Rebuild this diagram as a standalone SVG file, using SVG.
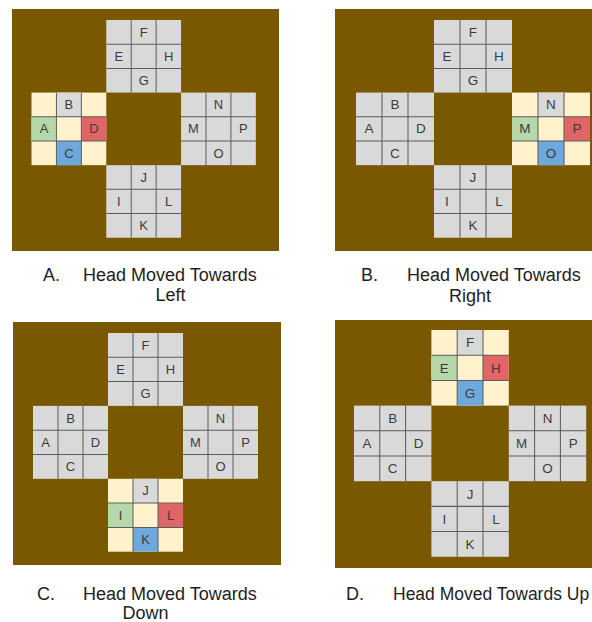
<svg xmlns="http://www.w3.org/2000/svg" xmlns:xlink="http://www.w3.org/1999/xlink" width="592" height="622" viewBox="0 0 592 622">
<style>
.bg{fill:#7a5802}
.lt{font-family:"Liberation Sans",Arial,sans-serif;font-size:13px;fill:#3c3c3c;text-anchor:middle}
.lb{font-family:"Liberation Sans",Arial,sans-serif;font-size:18px;fill:#1e1e1e}
.grid{stroke:#5c5c5c;stroke-width:1;fill:none}
</style>
<defs>
<g id="grey">
<rect width="75" height="72" fill="#d9d9d9"/>
<path class="grid" d="M25 0V72M50 0V72M0 24H75M0 48H75"/>
</g>
<g id="hl">
<rect width="75" height="72" fill="#fff2cc"/>
<rect x="25" y="0" width="25" height="24" fill="#d9d9d9"/>
<rect x="0" y="24" width="25" height="24" fill="#b6d7a8"/>
<rect x="50" y="24" width="25" height="24" fill="#e06666"/>
<rect x="25" y="48" width="25" height="24" fill="#6fa8dc"/>
<path class="grid" d="M25 0V72M50 0V72M0 24H75M0 48H75"/>
</g>
</defs>
<rect width="592" height="622" fill="#ffffff"/>

<!-- Panel A -->
<g id="panelA">
<rect class="bg" x="12" y="9" width="267" height="242"/>
<g transform="translate(31.5,20) scale(0.997,1.008)">
<g id="A-top" transform="translate(75,0)"><use xlink:href="#grey"/><text class="lt" x="37.5" y="16.5">F</text><text class="lt" x="12.5" y="40.5">E</text><text class="lt" x="62.5" y="40.5">H</text><text class="lt" x="37.5" y="64.5">G</text></g>
<g id="A-left" transform="translate(0,72)"><use xlink:href="#hl"/><text class="lt" x="37.5" y="16.5">B</text><text class="lt" x="12.5" y="40.5">A</text><text class="lt" x="62.5" y="40.5">D</text><text class="lt" x="37.5" y="64.5">C</text></g>
<g id="A-right" transform="translate(150,72)"><use xlink:href="#grey"/><text class="lt" x="37.5" y="16.5">N</text><text class="lt" x="12.5" y="40.5">M</text><text class="lt" x="62.5" y="40.5">P</text><text class="lt" x="37.5" y="64.5">O</text></g>
<g id="A-bottom" transform="translate(75,144)"><use xlink:href="#grey"/><text class="lt" x="37.5" y="16.5">J</text><text class="lt" x="12.5" y="40.5">I</text><text class="lt" x="62.5" y="40.5">L</text><text class="lt" x="37.5" y="64.5">K</text></g>
</g>
<text class="lb" x="43" y="281">A.</text>
<text class="lb" x="83" y="281">Head Moved Towards</text>
<text class="lb" x="170.5" y="301" text-anchor="middle">Left</text>
</g>

<!-- Panel B -->
<g id="panelB">
<rect class="bg" x="335" y="9" width="257" height="242"/>
<g transform="translate(356,20) scale(1.04,1.008)">
<g id="B-top" transform="translate(75,0)"><use xlink:href="#grey"/><text class="lt" x="37.5" y="16.5">F</text><text class="lt" x="12.5" y="40.5">E</text><text class="lt" x="62.5" y="40.5">H</text><text class="lt" x="37.5" y="64.5">G</text></g>
<g id="B-left" transform="translate(0,72)"><use xlink:href="#grey"/><text class="lt" x="37.5" y="16.5">B</text><text class="lt" x="12.5" y="40.5">A</text><text class="lt" x="62.5" y="40.5">D</text><text class="lt" x="37.5" y="64.5">C</text></g>
<g id="B-right" transform="translate(150,72)"><use xlink:href="#hl"/><text class="lt" x="37.5" y="16.5">N</text><text class="lt" x="12.5" y="40.5">M</text><text class="lt" x="62.5" y="40.5">P</text><text class="lt" x="37.5" y="64.5">O</text></g>
<g id="B-bottom" transform="translate(75,144)"><use xlink:href="#grey"/><text class="lt" x="37.5" y="16.5">J</text><text class="lt" x="12.5" y="40.5">I</text><text class="lt" x="62.5" y="40.5">L</text><text class="lt" x="37.5" y="64.5">K</text></g>
</g>
<text class="lb" x="361" y="281">B.</text>
<text class="lb" x="407" y="281">Head Moved Towards</text>
<text class="lb" x="470" y="302" text-anchor="middle">Right</text>
</g>

<!-- Panel C -->
<g id="panelC">
<rect class="bg" x="13" y="322" width="268" height="243"/>
<g transform="translate(33,333) scale(1,1.0125)">
<g id="C-top" transform="translate(75,0)"><use xlink:href="#grey"/><text class="lt" x="37.5" y="16.5">F</text><text class="lt" x="12.5" y="40.5">E</text><text class="lt" x="62.5" y="40.5">H</text><text class="lt" x="37.5" y="64.5">G</text></g>
<g id="C-left" transform="translate(0,72)"><use xlink:href="#grey"/><text class="lt" x="37.5" y="16.5">B</text><text class="lt" x="12.5" y="40.5">A</text><text class="lt" x="62.5" y="40.5">D</text><text class="lt" x="37.5" y="64.5">C</text></g>
<g id="C-right" transform="translate(150,72)"><use xlink:href="#grey"/><text class="lt" x="37.5" y="16.5">N</text><text class="lt" x="12.5" y="40.5">M</text><text class="lt" x="62.5" y="40.5">P</text><text class="lt" x="37.5" y="64.5">O</text></g>
<g id="C-bottom" transform="translate(75,144)"><use xlink:href="#hl"/><text class="lt" x="37.5" y="16.5">J</text><text class="lt" x="12.5" y="40.5">I</text><text class="lt" x="62.5" y="40.5">L</text><text class="lt" x="37.5" y="64.5">K</text></g>
</g>
<text class="lb" x="37" y="600">C.</text>
<text class="lb" x="83" y="600">Head Moved Towards</text>
<text class="lb" x="145.5" y="619" text-anchor="middle">Down</text>
</g>

<!-- Panel D -->
<g id="panelD">
<rect class="bg" x="335" y="320" width="257" height="248"/>
<g transform="translate(354,330) scale(1.032,1.05)">
<g id="D-top" transform="translate(75,0)"><use xlink:href="#hl"/><text class="lt" x="37.5" y="16.5">F</text><text class="lt" x="12.5" y="40.5">E</text><text class="lt" x="62.5" y="40.5">H</text><text class="lt" x="37.5" y="64.5">G</text></g>
<g id="D-left" transform="translate(0,72)"><use xlink:href="#grey"/><text class="lt" x="37.5" y="16.5">B</text><text class="lt" x="12.5" y="40.5">A</text><text class="lt" x="62.5" y="40.5">D</text><text class="lt" x="37.5" y="64.5">C</text></g>
<g id="D-right" transform="translate(150,72)"><use xlink:href="#grey"/><text class="lt" x="37.5" y="16.5">N</text><text class="lt" x="12.5" y="40.5">M</text><text class="lt" x="62.5" y="40.5">P</text><text class="lt" x="37.5" y="64.5">O</text></g>
<g id="D-bottom" transform="translate(75,144)"><use xlink:href="#grey"/><text class="lt" x="37.5" y="16.5">J</text><text class="lt" x="12.5" y="40.5">I</text><text class="lt" x="62.5" y="40.5">L</text><text class="lt" x="37.5" y="64.5">K</text></g>
</g>
<text class="lb" x="346" y="600">D.</text>
<text class="lb" x="393" y="600" style="font-size:17.5px">Head Moved Towards Up</text>
</g>

<g id="connectors"/>
</svg>
